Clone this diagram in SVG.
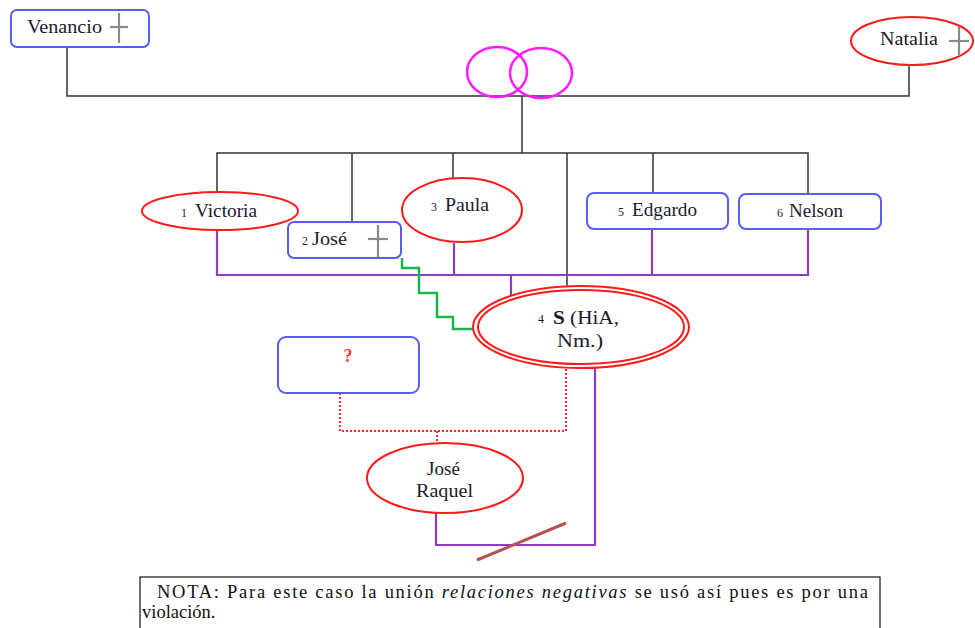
<svg xmlns="http://www.w3.org/2000/svg" width="975" height="628" viewBox="0 0 975 628">
  <style>
    .box { fill: #fff; stroke: #5b5bf5; stroke-width: 2; }
    .ell { fill: #fff; stroke: #ff1a1a; stroke-width: 2; }
    .t { font-family: "Liberation Serif", "DejaVu Serif", "Times New Roman", serif; font-size: 18px; fill: #1a1a2e; }
    .n { font-size: 12px; }
    .kin { fill: none; stroke: #333; stroke-width: 1.5; }
    .sib { fill: none; stroke: #8e3cc4; stroke-width: 2.2; }
    .cross { stroke: #8a8a8a; stroke-width: 2.2; }
    .note { font-family: "Liberation Serif", "DejaVu Serif", "Times New Roman", serif; font-size: 18.5px; fill: #111; }
  </style>

  <!-- connectors -->
  <g id="connectors">
    <!-- parents -->
    <polyline class="kin" points="67,47 67,96 909,96 909,66"/>
    <line class="kin" x1="522" y1="96" x2="522" y2="153"/>
    <!-- children drop lines -->
    <polyline class="kin" points="217,193 217,153 808,153 808,194"/>
    <line class="kin" x1="352" y1="153" x2="352" y2="223"/>
    <line class="kin" x1="453" y1="153" x2="453" y2="179"/>
    <line class="kin" x1="567" y1="153" x2="567" y2="289"/>
    <line class="kin" x1="653" y1="153" x2="653" y2="193"/>
    <!-- sibling bar -->
    <polyline class="sib" points="217,230 217,275 808,275 808,229"/>
    <line class="sib" x1="454" y1="243" x2="454" y2="275"/>
    <line class="sib" x1="652" y1="229" x2="652" y2="275"/>
    <line class="sib" x1="511" y1="275" x2="511" y2="297"/>
    <!-- green stepped link -->
    <polyline fill="none" stroke="#1fb24a" stroke-width="2.5" points="402,258 402,268 419,268 419,293 437,293 437,317 453,317 453,329 476,329"/>
    <!-- dotted union -->
    <polyline fill="none" stroke="#ff2a2a" stroke-width="2" stroke-dasharray="2,2" points="340,393 340,431 566,431 566,368"/>
    <line x1="437" y1="431" x2="437" y2="444" stroke="#ff2a2a" stroke-width="2" stroke-dasharray="2,2"/>
    <!-- child link -->
    <polyline class="sib" points="595,368 595,545 436,545 436,513"/>
    <line x1="477" y1="560" x2="566" y2="523" stroke="#b5524f" stroke-width="3"/>
  </g>

  <!-- marriage rings -->
  <g id="rings" fill="none" stroke="#ff1aff" stroke-width="2.5">
    <ellipse cx="497" cy="72" rx="30" ry="25"/>
    <ellipse cx="541" cy="73" rx="31" ry="25"/>
  </g>

  <g id="venancio">
    <rect class="box" x="11" y="10" width="138" height="37" rx="6"/>
    <text class="t" x="27" y="33" textLength="75" lengthAdjust="spacingAndGlyphs">Venancio</text>
    <line class="cross" x1="119" y1="13" x2="119" y2="43"/>
    <line class="cross" x1="110" y1="27" x2="128" y2="27"/>
  </g>

  <g id="natalia">
    <ellipse class="ell" cx="912" cy="41" rx="61" ry="24"/>
    <text class="t" x="880" y="45" textLength="58" lengthAdjust="spacingAndGlyphs">Natalia</text>
    <line class="cross" x1="959" y1="27" x2="959" y2="56"/>
    <line class="cross" x1="949" y1="41" x2="969" y2="41"/>
  </g>

  <g id="victoria">
    <ellipse class="ell" cx="220" cy="211" rx="78" ry="19"/>
    <text class="t n" x="181" y="217">1</text>
    <text class="t" x="195" y="217" textLength="62" lengthAdjust="spacingAndGlyphs">Victoria</text>
  </g>

  <g id="jose">
    <rect class="box" x="288" y="222" width="113" height="36" rx="6"/>
    <text class="t n" x="302" y="245">2</text>
    <text class="t" x="312" y="245" textLength="35" lengthAdjust="spacingAndGlyphs">José</text>
    <line class="cross" x1="378" y1="225" x2="378" y2="257"/>
    <line class="cross" x1="368" y1="239" x2="388" y2="239"/>
  </g>

  <g id="paula">
    <ellipse class="ell" cx="462" cy="210" rx="60" ry="32"/>
    <text class="t n" x="431" y="211">3</text>
    <text class="t" x="445" y="211" textLength="44" lengthAdjust="spacingAndGlyphs">Paula</text>
  </g>

  <g id="edgardo">
    <rect class="box" x="587" y="193" width="141" height="36" rx="7"/>
    <text class="t n" x="618" y="216">5</text>
    <text class="t" x="632" y="216" textLength="65" lengthAdjust="spacingAndGlyphs">Edgardo</text>
  </g>

  <g id="nelson">
    <rect class="box" x="739" y="194" width="142" height="35" rx="7"/>
    <text class="t n" x="777" y="217">6</text>
    <text class="t" x="789" y="217" textLength="54" lengthAdjust="spacingAndGlyphs">Nelson</text>
  </g>

  <g id="s">
    <ellipse class="ell" cx="581" cy="327" rx="108" ry="41"/>
    <ellipse class="ell" cx="581" cy="327" rx="103" ry="37"/>
    <text class="t n" x="538" y="323">4</text>
    <text class="t" x="553" y="324" font-size="20" textLength="66" lengthAdjust="spacingAndGlyphs"><tspan font-weight="bold">S</tspan> (HiA,</text>
    <text class="t" x="557" y="347" font-size="20" textLength="46" lengthAdjust="spacingAndGlyphs">Nm.)</text>
  </g>

  <g id="unknown">
    <rect class="box" x="278" y="337" width="141" height="56" rx="8"/>
    <text class="t" x="348" y="362" text-anchor="middle" font-weight="bold" style="fill:#ff3a2a">?</text>
  </g>

  <g id="jose-raquel">
    <ellipse class="ell" cx="445" cy="478" rx="78" ry="35"/>
    <text class="t" x="427" y="475" textLength="33" lengthAdjust="spacingAndGlyphs">José</text>
    <text class="t" x="416" y="497" textLength="57" lengthAdjust="spacingAndGlyphs">Raquel</text>
  </g>

  <g id="nota">
    <rect x="140" y="577" width="740" height="60" fill="#fff" stroke="#111" stroke-width="1.2"/>
    <text class="note" x="157" y="598" textLength="711" lengthAdjust="spacing">NOTA: Para este caso la unión  <tspan font-style="italic">relaciones negativas</tspan> se usó así pues es por una</text>
    <text class="note" x="142" y="618">violación.</text>
  </g>
</svg>
